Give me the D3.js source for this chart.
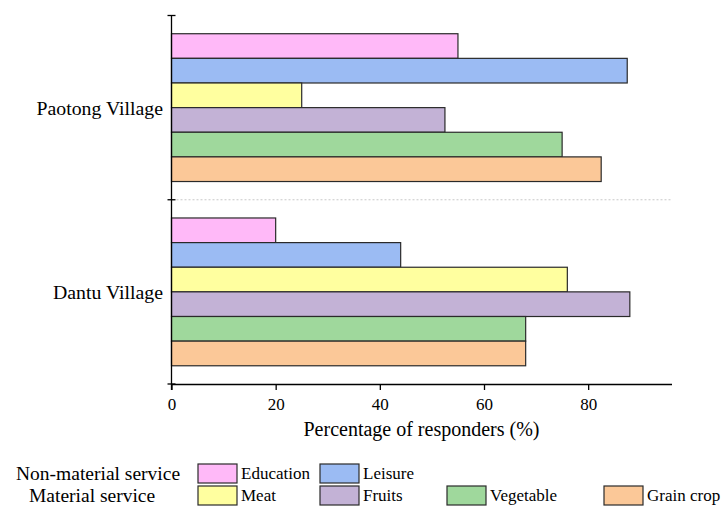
<!DOCTYPE html>
<html>
<head>
<meta charset="utf-8">
<script src="https://cdn.jsdelivr.net/npm/d3@7"></script>
<style>
  html, body { margin: 0; padding: 0; background: #fff; }
  svg { display: block; }
  svg text { font-family: "Liberation Serif", "Times New Roman", serif; }
</style>
</head>
<body>
<svg id="chart" width="724" height="507"></svg>
<script>
// Villages (y groups) and ecosystem services (bars within each group)
const villages = ["Paotong Village", "Dantu Village"];
const services = ["Education", "Leisure", "Meat", "Fruits", "Vegetable", "Grain crop"];
const paotongValues = [55, 87.5, 25, 52.5, 75, 82.5];
const dantuValues = [20, 44, 76, 88, 68, 68];
const serviceColors = ["#ffb9f8", "#9bbbf3", "#ffff9f", "#c3b2d6", "#9fd89c", "#fbc898"];
const xTicks = [0, 20, 40, 60, 80];
const legendRows = [
  { label: "Non-material service", items: ["Education", "Leisure"] },
  { label: "Material service", items: ["Meat", "Fruits", "Vegetable", "Grain crop"] }
];

const valuesByVillage = { "Paotong Village": paotongValues, "Dantu Village": dantuValues };
const serif = "'Liberation Serif', 'Times New Roman', serif";

const svg = d3.select("#chart");
const plotLeft = 171.5, plotRight = 671.5, plotTop = 15.5, plotBottom = 384;

const x = d3.scaleLinear().domain([0, 96]).range([plotLeft, plotRight]);
const yGroup = d3.scaleBand().domain(villages).range([plotTop, plotBottom]).padding(0);
const yInner = d3.scaleBand().domain(services).range([0, yGroup.bandwidth()])
  .paddingInner(0).paddingOuter(0.74);
const color = d3.scaleOrdinal().domain(services).range(serviceColors);

// Dotted separator between the two villages
svg.append("line")
  .attr("x1", plotLeft + 1).attr("x2", plotRight)
  .attr("y1", yGroup("Dantu Village")).attr("y2", yGroup("Dantu Village"))
  .attr("stroke", "#c8c8c8").attr("stroke-width", 1).attr("stroke-dasharray", "2,2");

// Bars
const groups = svg.selectAll("g.village").data(villages).join("g")
  .attr("class", "village")
  .attr("transform", d => `translate(0,${yGroup(d)})`);

groups.selectAll("rect")
  .data(v => services.map((s, i) => ({ service: s, value: valuesByVillage[v][i] })))
  .join("rect")
  .attr("x", x(0))
  .attr("y", d => yInner(d.service))
  .attr("width", d => x(d.value) - x(0))
  .attr("height", yInner.bandwidth())
  .attr("fill", d => color(d.service))
  .attr("stroke", "#2a2a2a")
  .attr("stroke-width", 1.2);

// X axis
const xAxis = d3.axisBottom(x).tickValues(xTicks).tickSize(6).tickSizeOuter(0).tickPadding(8);
const gx = svg.append("g").attr("transform", `translate(0,${plotBottom})`).call(xAxis)
  .attr("font-family", serif);
gx.select(".domain").attr("stroke", "#000").attr("stroke-width", 1.3);
gx.selectAll(".tick line").attr("stroke", "#000").attr("stroke-width", 1.3);
gx.selectAll(".tick text").attr("font-size", 17).style("font-family", serif).attr("fill", "#000");

svg.append("text")
  .attr("x", (plotLeft + plotRight) / 2).attr("y", 436)
  .attr("text-anchor", "middle").attr("font-size", 20).attr("fill", "#000")
  .style("font-family", serif)
  .text("Percentage of responders (%)");

// Y axis with crossing ticks at group boundaries
svg.append("line")
  .attr("x1", plotLeft).attr("x2", plotLeft).attr("y1", plotTop).attr("y2", plotBottom + 6)
  .attr("stroke", "#000").attr("stroke-width", 1.3);
const boundaries = [plotTop, yGroup("Dantu Village"), plotBottom];
svg.selectAll("line.ytick").data(boundaries).join("line")
  .attr("class", "ytick")
  .attr("x1", plotLeft - 4).attr("x2", plotLeft + 4)
  .attr("y1", d => d).attr("y2", d => d)
  .attr("stroke", "#000").attr("stroke-width", 1.3);

svg.selectAll("text.village-label").data(villages).join("text")
  .attr("class", "village-label")
  .attr("x", 163)
  .attr("y", d => yGroup(d) + yGroup.bandwidth() / 2)
  .attr("dy", "0.35em")
  .attr("text-anchor", "end")
  .attr("font-size", 19.8)
  .attr("fill", "#000")
  .style("font-family", serif)
  .text(d => d);

// Legend
const legendItemX = { "Education": 198, "Leisure": 320, "Meat": 198, "Fruits": 320, "Vegetable": 447, "Grain crop": 604 };
const legendLabelX = [16, 29];
const rowY = [464, 486];
legendRows.forEach((row, r) => {
  svg.append("text")
    .attr("x", legendLabelX[r]).attr("y", rowY[r] + 9.5).attr("dy", "0.35em")
    .attr("font-size", 19.5).attr("fill", "#000")
    .style("font-family", serif)
    .text(row.label);
  row.items.forEach(item => {
    svg.append("rect")
      .attr("x", legendItemX[item]).attr("y", rowY[r])
      .attr("width", 39).attr("height", 19)
      .attr("fill", color(item)).attr("stroke", "#2a2a2a").attr("stroke-width", 1.2);
    svg.append("text")
      .attr("x", legendItemX[item] + 43).attr("y", rowY[r] + 9.5).attr("dy", "0.35em")
      .attr("font-size", 17).attr("fill", "#000")
      .style("font-family", serif)
      .text(item);
  });
});
</script>
</body>
</html>
